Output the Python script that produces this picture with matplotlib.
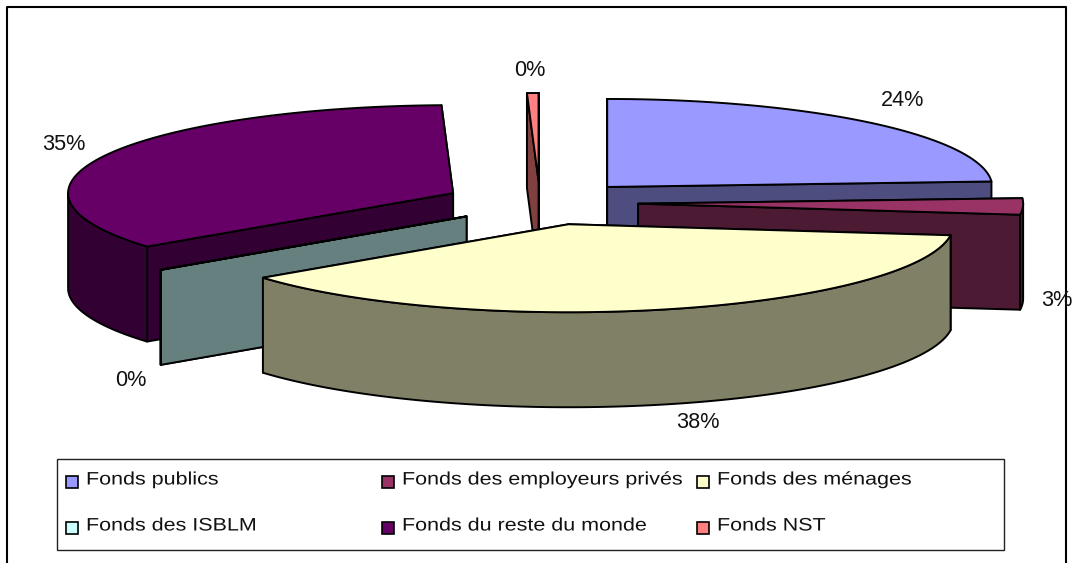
import numpy as np
import matplotlib
matplotlib.use('Agg')
import matplotlib.pyplot as plt
from matplotlib.patches import Polygon, Rectangle
from matplotlib.patheffects import AbstractPathEffect
from matplotlib.transforms import Affine2D
from matplotlib.colors import to_rgb

plt.rcParams['font.family'] = ['Liberation Sans', 'DejaVu Sans']

categories = ['Fonds publics', 'Fonds des employeurs privés', 'Fonds des ménages',
              'Fonds des ISBLM', 'Fonds du reste du monde', 'Fonds NST']
shares = [24.0, 3.0, 37.6, 0.02, 34.9, 0.48]
colors = ['#9999ff', '#993366', '#ffffcc', '#ccffff', '#660066', '#ff8080']

# pie geometry, in pixels of the picture
cx, cy = 540, 203
a, b = 385, 88
depth = 95
explode_x = [0.255, 0.255, 0.285, 0.24, 0.25, 0.25]
explode_y = [0.25, 0.25, 0.25, 0.25, 0.26, 0.25]
draw_order = [4, 5, 0, 1, 3, 2]
label_pos = [(903, 100), (1057, 300), (698, 422), (131, 380), (64, 145), (530, 71)]

legend_x = [66, 382, 697]
legend_y = [482, 528]


class Stretch(AbstractPathEffect):
    # the original legend text is widely spaced, so widen the glyphs a bit

    def __init__(self, sx):
        super().__init__()
        self.sx = sx

    def draw_path(self, renderer, gc, tpath, affine, rgbFace=None):
        renderer.draw_path(gc, tpath, Affine2D().scale(self.sx, 1) + affine, rgbFace)


def rim(x0, y0, t):
    t = np.radians(t)
    return np.column_stack([x0 + a*np.sin(t), y0 - b*np.cos(t)])


def shade(c):
    return tuple(0.5*v for v in to_rgb(c))


def draw_slice(ax, i, t1, t2):
    mid = np.radians((t1 + t2)/2)
    x0 = cx + explode_x[i]*a*np.sin(mid)
    y0 = cy - explode_y[i]*b*np.cos(mid)
    side = shade(colors[i])
    kw = dict(ec='black', lw=1.4, joinstyle='round')

    # cut faces, the one further back first
    for t in sorted([t1, t2], key=lambda v: -np.cos(np.radians(v))):
        p = rim(x0, y0, [t])[0]
        ax.add_patch(Polygon([(x0, y0), p, (p[0], p[1] + depth), (x0, y0 + depth)], fc=side, **kw))

    # outer wall, only the part that looks at us
    lo, hi = max(t1, 90), min(t2, 270)
    if hi > lo:
        arc = rim(x0, y0, np.linspace(lo, hi, 120))
        low = arc[::-1] + [0, depth]
        ax.add_patch(Polygon(np.vstack([arc, low]), fc=side, **kw))

    arc = rim(x0, y0, np.linspace(t1, t2, 200))
    ax.add_patch(Polygon(np.vstack([[(x0, y0)], arc]), fc=colors[i], **kw))


fig = plt.figure(figsize=(10.74, 5.63), dpi=100)
ax = fig.add_axes([0, 0, 1, 1])
ax.set_xlim(0, 1074)
ax.set_ylim(563, 0)
ax.axis('off')

# frame of the chart
ax.plot([6.5, 6.5, 1066, 1066], [570, 7, 7, 570], color='black', lw=1.5)

ends = np.cumsum(shares)/np.sum(shares)*360
starts = np.concatenate([[0], ends[:-1]])
for i in draw_order:
    draw_slice(ax, i, starts[i], ends[i])

for s, (x, y) in zip(shares, label_pos):
    ax.text(x, y, f'{round(s)}%', ha='center', va='center', fontsize=15.6, color='#111111')

# legend
ax.add_patch(Rectangle((57, 459), 947, 91, fc='white', ec='#222222', lw=1))
for i, name in enumerate(categories):
    x = legend_x[i % 3]
    y = legend_y[i // 3]
    ax.add_patch(Rectangle((x, y - 6), 12, 12, fc=colors[i], ec='black', lw=1.2))
    t = ax.text(x + 20, y - 2, name, ha='left', va='center', fontsize=13, color='#111111')
    t.set_path_effects([Stretch(1.19)])

fig.savefig('out.png', dpi=100)
